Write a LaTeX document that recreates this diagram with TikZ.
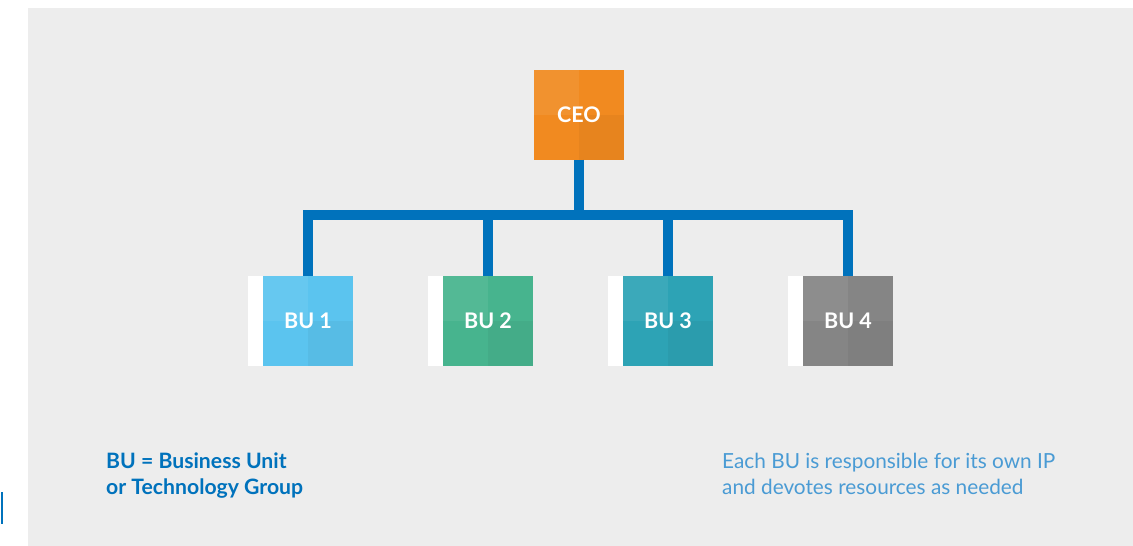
\documentclass[tikz,border=0pt]{standalone}
\usepackage{fontspec}
\setmainfont{Lato}
\usetikzlibrary{positioning,calc}
\definecolor{BgGray}{RGB}{237,237,237}
\definecolor{LinkBlue}{RGB}{0,114,188}
\definecolor{CeoOrange}{RGB}{241,138,32}
\definecolor{BuSky}{RGB}{91,196,239}
\definecolor{BuGreen}{RGB}{71,180,142}
\definecolor{BuTeal}{RGB}{45,163,181}
\definecolor{BuGray}{RGB}{133,133,133}
\definecolor{NoteBlue}{RGB}{74,155,212}
\tikzset{
  box/.style={rectangle,minimum size=90pt,inner sep=0pt,text=white,
    font=\fontsize{21.5}{25}\selectfont\bfseries,
    path picture={
      \fill[white,opacity=.07] (path picture bounding box.north west) rectangle (path picture bounding box.center);
      \fill[black,opacity=.04] (path picture bounding box.center) rectangle (path picture bounding box.south east);}},
  link/.style={draw=LinkBlue,line width=10pt,line join=miter},
  strip/.style={fill=white},
  legend/.style={anchor=north west,inner sep=0pt,align=left,text=LinkBlue,
    font=\fontsize{21.2}{26}\selectfont\bfseries},
  note/.style={anchor=north west,inner sep=0pt,align=left,text=NoteBlue,
    font=\fontsize{20.8}{26}\selectfont},
}
\begin{document}
\begin{tikzpicture}[x=1pt,y=-1pt]
\useasboundingbox (0,0) rectangle (1133,546);
\fill[BgGray] (28,8) rectangle (1133,546);
\fill[LinkBlue] (0.5,492) rectangle (2.5,524);
% boxes
\node[box,fill=CeoOrange] (ceo) at (579,114.5) {CEO};
\node[box,fill=BuSky] (bu1) at (308,321) {BU 1};
\node[box,fill=BuGreen] (bu2) at (488,321) {BU 2};
\node[box,fill=BuTeal] (bu3) at (668,321) {BU 3};
\node[box,fill=BuGray] (bu4) at (848,321) {BU 4};
\foreach \b in {bu1,bu2,bu3,bu4}
  \fill[strip] ($(\b.north west)+(-15,0)$) rectangle (\b.south west);
% connectors
\coordinate (bar) at (579,215);
\draw[link] (ceo.south) -- (ceo.south |- bar);
\draw[link] (bu1.north) -- (bu1.north |- bar) -- (bu4.north |- bar) -- (bu4.north);
\draw[link] (bu2.north |- bar) -- (bu2.north);
\draw[link] (bu3.north |- bar) -- (bu3.north);
% notes
\node[legend] (key) at (106,453) {BU = Business Unit\\or Technology Group};
\node[note] (info) at (722,453) {Each BU is responsible for its own IP\\and devotes resources as needed};
\end{tikzpicture}
\end{document}
